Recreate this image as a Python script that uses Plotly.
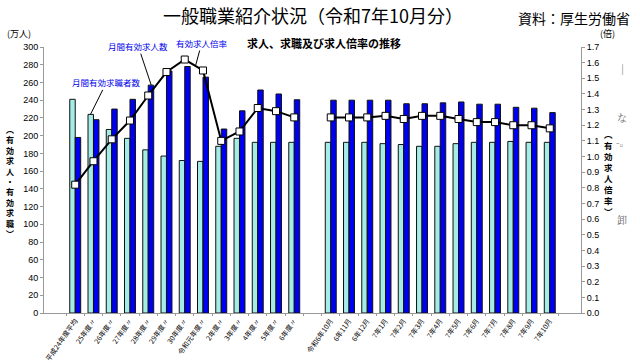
import plotly.graph_objects as go

# ---- data ----
cats_year = ["平成24年度平均", "25年度〃", "26年度〃", "27年度〃", "28年度〃", "29年度〃",
             "30年度〃", "令和元年度〃", "2年度〃", "3年度〃", "4年度〃", "5年度〃", "6年度〃"]
cats_gap = [" "]
cats_month = ["令和6年10月", "6年11月", "6年12月", "7年1月", "7年2月", "7年3月", "7年4月",
              "7年5月", "7年6月", "7年7月", "7年8月", "7年9月", "7年10月"]

seekers_year = [241, 224, 207, 197, 184, 177, 172, 171, 188, 197, 192.5, 192.5, 192.5]
openings_year = [198, 218, 230, 241, 257, 273, 278, 266, 207.5, 228, 251.5, 247, 240.5]
ratio_year = [0.82, 0.97, 1.11, 1.23, 1.39, 1.54, 1.62, 1.55, 1.10, 1.16, 1.31, 1.29, 1.25]

seekers_month = [192.5, 192.5, 192.5, 191, 190, 188, 188, 191, 192.5, 192.5, 193.5, 192.5, 192.5]
openings_month = [240, 240, 240, 240, 236, 236, 237, 238, 235.5, 235.5, 232, 231, 226]
ratio_month = [1.25, 1.25, 1.25, 1.26, 1.24, 1.26, 1.26, 1.24, 1.22, 1.22, 1.20, 1.20, 1.18]

cats = cats_year + cats_gap + cats_month
seekers = seekers_year + [None] + seekers_month
openings = openings_year + [None] + openings_month
ratio = ratio_year + [None] + ratio_month

JP = "Noto Sans CJK JP"
NUM = "Liberation Sans Narrow, Liberation Sans"

W, H = 640, 363
# plot area in page pixels
pl, pw, pt, ph = 44, 537, 47, 266

fig = go.Figure()
fig.add_trace(go.Bar(x=cats, y=seekers, name="月間有効求職者数",
                     marker=dict(color="#a4ece6", line=dict(color="#111111", width=1))))
fig.add_trace(go.Bar(x=cats, y=openings, name="月間有効求人数",
                     marker=dict(color="#0000f0", line=dict(color="#111111", width=1))))
fig.add_trace(go.Scatter(x=cats, y=ratio, yaxis="y2", mode="lines+markers",
                         name="有効求人倍率", connectgaps=False,
                         line=dict(color="#000000", width=2),
                         marker=dict(symbol="square", size=7, color="white",
                                     line=dict(color="#000000", width=1))))

fig.update_layout(
    width=W, height=H,
    margin=dict(l=pl, r=W - (pl + pw), t=pt, b=H - (pt + ph)),
    paper_bgcolor="white", plot_bgcolor="white",
    showlegend=False,
    barmode="group", bargap=0.4, bargroupgap=0,
    font=dict(family=JP, color="#000000"),
    xaxis=dict(type="category", categoryorder="array", categoryarray=cats,
               tickangle=-55, tickfont=dict(size=7, family=JP),
               showline=True, linecolor="#999999", linewidth=1,
               ticks="outside", ticklen=2, tickcolor="#999999", tickson="boundaries",
               showgrid=False, automargin=False, zeroline=False),
    yaxis=dict(range=[0, 300], dtick=20, showgrid=False, zeroline=False,
               showline=True, linecolor="#999999", linewidth=1,
               ticks="outside", ticklen=3, tickcolor="#999999",
               tickfont=dict(size=9, family=NUM), automargin=False),
    yaxis2=dict(range=[0, 1.7], dtick=0.1, tickformat=".1f", overlaying="y", side="right",
                showgrid=False, zeroline=False,
                showline=True, linecolor="#999999", linewidth=1,
                ticks="outside", ticklen=3, tickcolor="#999999",
                tickfont=dict(size=9, family=NUM), automargin=False),
)


def pos(px, py):
    """page pixel -> plot-area paper coords"""
    return (px - pl) / pw, (pt + ph - py) / ph


annotations = []
texts = [
    ("一般職業紹介状況（令和7年10月分）", 313, 15, 18, False),
    ("資料：厚生労働省", 574, 18, 14, False),
    ("求人、求職及び求人倍率の推移", 324, 43, 11, True),
    ("(万人)", 19, 33, 9, False),
    ("(倍)", 607, 33, 9, False),
]
for t, px, py, sz, bold in texts:
    x, y = pos(px, py)
    annotations.append(dict(text=f"<b>{t}</b>" if bold else t, x=x, y=y,
                            xref="paper", yref="paper", xanchor="center", yanchor="middle",
                            showarrow=False, font=dict(size=sz, family=JP, color="#000000")))

# vertical axis titles
left_title = "<br>".join(list("︵有効求人・有効求職︶"))
right_title = "<br>".join(list("︵有効求人倍率︶"))
x, y = pos(10, 181)
annotations.append(dict(text=f"<b>{left_title}</b>", x=x, y=y, xref="paper", yref="paper",
                        showarrow=False, xanchor="center", yanchor="middle",
                        font=dict(size=8, family=JP, color="#000000")))
x, y = pos(608, 172)
annotations.append(dict(text=f"<b>{right_title}</b>", x=x, y=y, xref="paper", yref="paper",
                        showarrow=False, xanchor="center", yanchor="middle",
                        font=dict(size=8.5, family=JP, color="#000000")))
# stray glyphs at right edge
for ch, yy in [("|", 67), ("な", 117), ("-。", 141), ("卸", 219)]:
    x, y = pos(622, yy)
    annotations.append(dict(text=ch, x=x, y=y, xref="paper", yref="paper", showarrow=False,
                            xanchor="center", yanchor="middle",
                            font=dict(size=10, family="Noto Serif CJK JP, " + JP, color="#666666")))

# series labels with leader lines
blue = "#0000ee"
annotations.append(dict(text="月間有効求職者数", x=cats_year[1], y=seekers_year[1], xref="x", yref="y",
                        xshift=-3, ax=16, ay=-32, showarrow=True, arrowhead=0, arrowwidth=1,
                        arrowcolor="#000000", font=dict(size=8.5, family=JP, color=blue)))
annotations.append(dict(text="月間有効求人数", x=cats_year[4], y=openings_year[4], xref="x", yref="y",
                        xshift=3, ax=-13, ay=-39, showarrow=True, arrowhead=0, arrowwidth=1,
                        arrowcolor="#000000", font=dict(size=8.5, family=JP, color=blue)))
annotations.append(dict(text="有効求人倍率", x=cats_year[6], y=1.585, xref="x", yref="y2",
                        xshift=11, ax=6, ay=-22, showarrow=True, arrowhead=0, arrowwidth=1,
                        arrowcolor="#000000", font=dict(size=8.5, family=JP, color=blue)))

fig.update_layout(annotations=annotations)
fig.write_html("out.html", config={"displayModeBar": False},
               post_script="document.body.style.margin='0';document.body.style.overflow='hidden';")
